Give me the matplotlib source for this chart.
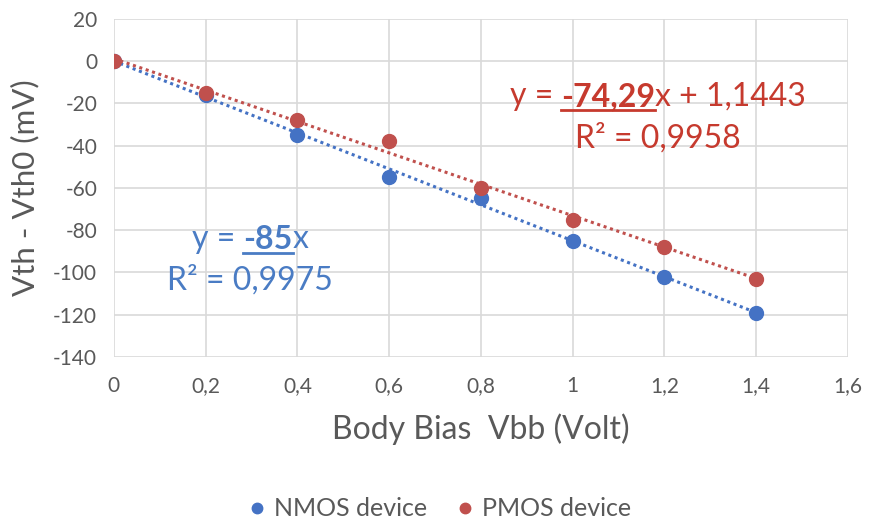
import numpy as np
import matplotlib
matplotlib.use("Agg")
import matplotlib.pyplot as plt
from matplotlib.lines import Line2D
from matplotlib.ticker import FuncFormatter

plt.rcParams['font.family'] = ['Lato', 'DejaVu Sans']

# ---- data ----
vbb = [0, 0.2, 0.4, 0.6, 0.8, 1.0, 1.2, 1.4]
nmos = [0, -16, -35, -55, -65, -85, -102, -119]
pmos = [0, -15, -28, -38, -60, -75, -88, -103]

# linear trend coefficients (slope, intercept)
nmos_fit = (-85.0, 0.0)
pmos_fit = (-74.29, 1.1443)
nmos_r2 = "0,9975"
pmos_r2 = "0,9958"

blue = '#4472C4'
red = '#C0504D'
blue_txt = '#4A7CC4'
red_txt = '#C63A2E'
grey = '#595959'
grid_c = '#D9D9D9'

EQ_SIZE = 23

fig = plt.figure(figsize=(8.76, 5.22), dpi=100)
ax = fig.add_axes([0.130, 0.316, 0.838, 0.648])

# trend lines
xt = np.array([0, 1.4])
ax.plot(xt, nmos_fit[0] * xt + nmos_fit[1], ls=(0, (1, 1.2)), lw=2.2, color=blue, zorder=2)
ax.plot(xt, pmos_fit[0] * xt + pmos_fit[1], ls=(0, (1, 1.2)), lw=2.2, color=red, zorder=2)

# measured points
ax.plot(vbb, nmos, 'o', ms=10, color=blue, label='NMOS device', zorder=3)
ax.plot(vbb, pmos, 'o', ms=10, color=red, label='PMOS device', zorder=3)

ax.set_xlim(0, 1.6)
ax.set_ylim(-140, 20)
ax.set_xticks(np.arange(0, 1.61, 0.2))
ax.set_yticks(np.arange(-140, 21, 20))

def comma(v, pos):
    s = f"{v:.1f}".rstrip('0').rstrip('.')
    if s == '-0':
        s = '0'
    return s.replace('.', ',')

ax.xaxis.set_major_formatter(FuncFormatter(comma))
ax.yaxis.set_major_formatter(FuncFormatter(comma))
ax.tick_params(length=0, labelsize=15, colors=grey, pad=12)
ax.tick_params(axis='x', pad=14)
ax.grid(True, color=grid_c, lw=1.2)
ax.set_axisbelow(True)
for sp in ax.spines.values():
    sp.set_visible(False)

ax.set_xlabel('Body Bias  Vbb (Volt)', fontsize=23, color=grey, labelpad=12)
ax.set_ylabel('Vth - Vth0 (mV)', fontsize=22.5, color=grey, labelpad=10)

leg = fig.legend(loc='lower center', bbox_to_anchor=(0.5, -0.04), ncol=2, frameon=False,
                 fontsize=18, handlelength=1.0, handletextpad=0.2, columnspacing=1.0,
                 markerscale=0.75, labelcolor=grey)


# ---- trend equations with underlined bold slope ----
def equation(x0, y0, slope, rest, color):
    t1 = ax.text(x0, y0, 'y = ', fontsize=EQ_SIZE, color=color, va='baseline', ha='left')
    t2 = ax.annotate(slope, xy=(1, 0), xycoords=t1, fontsize=EQ_SIZE, color=color,
                     fontweight='bold', va='bottom', ha='left')
    t3 = ax.annotate(rest, xy=(1, 0), xycoords=t2, fontsize=EQ_SIZE, color=color,
                     va='bottom', ha='left')
    return t1, t2, t3


n_parts = equation(0.170, -88.5, '-85', 'x', blue_txt)
p_parts = equation(0.863, -20.8, '-74,29', 'x + 1,1443', red_txt)

fig.canvas.draw()
r = fig.canvas.get_renderer()
inv = fig.transFigure.inverted()
for (a, b, c), color, yr, r2 in [(n_parts, blue_txt, -107.9, nmos_r2),
                                 (p_parts, red_txt, -40.7, pmos_r2)]:
    ea, eb, ec = (t.get_window_extent(r) for t in (a, b, c))
    # underline below the bold number
    base_px = ax.transData.transform((0, a.get_position()[1]))[1]
    (fx0, fy), = inv.transform([(eb.x0, base_px - 5)])
    (fx1, _), = inv.transform([(eb.x1, base_px - 5)])
    fig.add_artist(Line2D([fx0, fx1], [fy, fy], color=color, lw=2))
    # R² line centred under the equation
    cx = (ea.x0 + ec.x1) / 2
    xd = ax.transData.inverted().transform((cx, 0))[0]
    ax.text(xd, yr, f'R² = {r2}', fontsize=EQ_SIZE, color=color, ha='center', va='baseline')

fig.savefig('out.png', dpi=100)
